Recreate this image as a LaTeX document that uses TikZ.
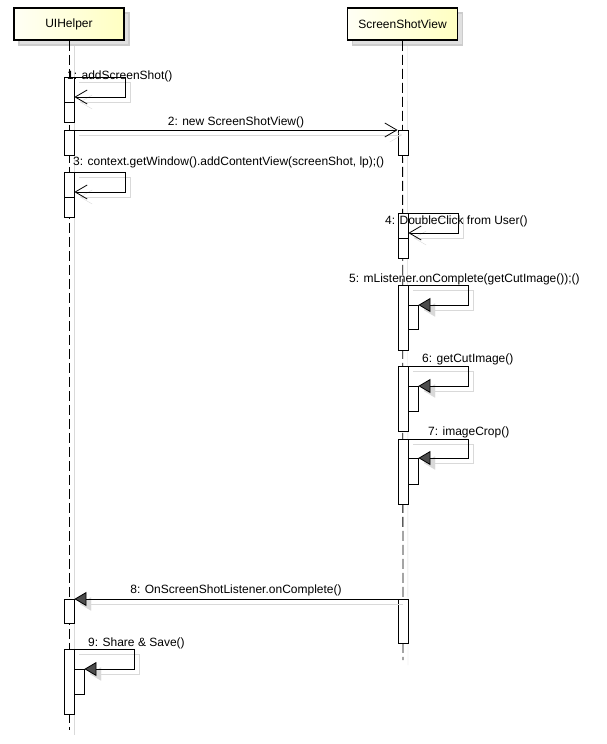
\documentclass[tikz,border=0pt]{standalone}
\usepackage{fontspec}
\setsansfont{Liberation Sans}
\usetikzlibrary{arrows.meta, positioning, calc, shadows}

\begin{document}
\begin{tikzpicture}[
  x=1pt, y=-1pt,
  font=\sffamily\fontsize{12}{14}\selectfont,
  shd/.style={preaction={draw=black!15, solid, transform canvas={shift={(5pt,-5pt)}}, #1}},
  shd/.default={},
  head/.style={draw, line width=1.6pt, left color=yellow!4, right color=yellow!24,
               minimum width=110pt, minimum height=32pt, inner sep=0pt,
               drop shadow={shadow xshift=5pt, shadow yshift=-5pt, fill=black!12, draw=black!20, opacity=1}},
  life/.style={shd, dash pattern=on 10pt off 4pt, line width=0.8pt},
  bar/.style={draw, fill=white, line width=0.8pt, minimum width=10pt,
              minimum height=#1, inner sep=0pt, anchor=north},
  msg/.style={shd, line width=0.8pt, -{Straight Barb[length=12pt, width=14pt]}},
  rmsg/.style={shd={-{Triangle[length=12pt, width=14pt, fill=black!15]}},
               line width=0.8pt, -{Triangle[length=12pt, width=14pt, fill=black!70]}},
  lbl/.style={inner sep=0pt, anchor=base west}
]
\useasboundingbox (0,0) rectangle (606,744);

% lifelines
\node[head] (uih) at (69,24)    {UIHelper};
\node[head] (ssv) at (402.5,24) {ScreenShotView};
\coordinate (uihend) at (69,730);
\coordinate (ssvend) at (403,660);
\draw[life] (uih.south) -- (uihend);
\draw[life] (ssv.south) -- (ssvend);

% activations on UIHelper
\node[bar=45] (a1)  at (69,77)  {};
\node[bar=20] (a1b) at (69,102) {};
\node[bar=25] (a2)  at (69,130) {};
\node[bar=45] (a3)  at (69,172) {};
\node[bar=20] (a3b) at (69,197) {};
\node[bar=24] (a8)  at (69,599) {};
\node[bar=65] (a9)  at (69,649) {};
\node[bar=25] (a9b) at (79,669) {};

% activations on ScreenShotView
\node[bar=25] (b2)  at (403,130) {};
\node[bar=45] (b4)  at (403,213) {};
\node[bar=20] (b4b) at (403,238) {};
\node[bar=65] (b5)  at (403,285) {};
\node[bar=24] (b5b) at (413,305) {};
\node[bar=65] (b6)  at (403,366) {};
\node[bar=25] (b6b) at (413,386) {};
\node[bar=65] (b7)  at (403,439) {};
\node[bar=26] (b7b) at (413,458) {};
\node[bar=44] (b8)  at (403,599) {};

% messages
\draw[msg] (a1.north east) -- ++(51,0) |- ([yshift=5pt]a1b.north east);
\node[lbl] (m1) at (67,79) {1: addScreenShot()};

\draw[msg] (a2.north east) -- node[above, inner sep=2pt] (m2) {2: new ScreenShotView()} (b2.north west);

\draw[msg] (a3.north east) -- ++(51,0) |- ([yshift=5pt]a3b.north east);
\node[lbl] (m3) at (73,165) {3: context.getWindow().addContentView(screenShot, lp);()};

\draw[msg] (b4.north east) -- ++(50,0) |- ([yshift=5pt]b4b.north east);
\node[lbl] (m4) at (385,224) {4: DoubleClick from User()};

\draw[rmsg] (b5.north east) -- ++(60,0) |- (b5b.north east);
\node[lbl] (m5) at (349,282) {5: mListener.onComplete(getCutImage());()};

\draw[rmsg] (b6.north east) -- ++(60,0) |- (b6b.north east);
\node[lbl] (m6) at (422,362) {6: getCutImage()};

\draw[rmsg] (b7.north east) -- ++(60,0) |- (b7b.north east);
\node[lbl] (m7) at (428,435) {7: imageCrop()};

\draw[rmsg] (b8.north west) -- node[above, inner sep=3pt] (m8) {8: OnScreenShotListener.onComplete()} (a8.north east);

\draw[rmsg] (a9.north east) -- ++(60,0) |- (a9b.north east);
\node[lbl] (m9) at (88,646) {9: Share \& Save()};
\end{tikzpicture}
\end{document}
